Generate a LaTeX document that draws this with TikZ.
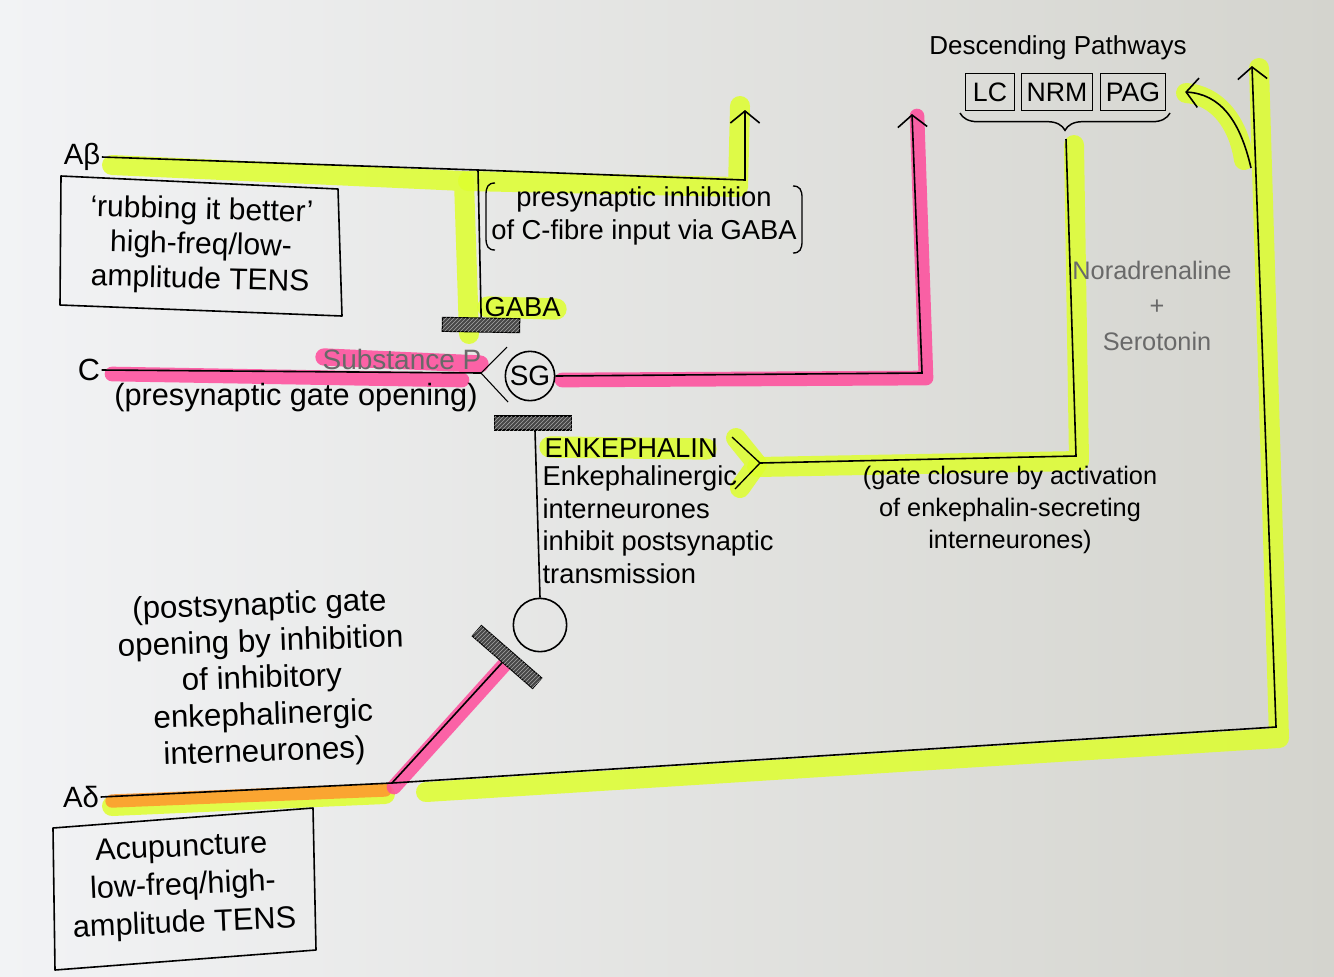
\documentclass[tikz,border=0pt]{standalone}
\usepackage{fontspec}
\setmainfont{Liberation Sans}
\usetikzlibrary{arrows.meta,patterns,decorations.pathreplacing}
\definecolor{hly}{RGB}{222,255,45}
\definecolor{hlp}{RGB}{255,75,155}
\definecolor{hlo}{RGB}{255,150,45}
\definecolor{paperL}{RGB}{242,243,245}
\definecolor{paperR}{RGB}{212,212,206}
\definecolor{inkgray}{RGB}{105,105,105}
\tikzset{
  hl/.style={line width=15pt, line cap=round, line join=round, opacity=0.85},
  nerve/.style={line width=1.2pt, black},
  arr/.style={nerve, -{Straight Barb[length=9pt,width=22pt,line width=1.2pt]}},
  lbl/.style={font=\fontsize{20.5}{24.5}\selectfont, inner sep=1pt},
  graytxt/.style={text=inkgray, font=\fontsize{19}{22}\selectfont, inner sep=1pt},
  boxline/.style={line width=1.2pt, line join=round},
  hbar/.style={draw, line width=0.8pt, fill=black!72, postaction={pattern=north east lines, pattern color=black!35}, minimum height=10.5pt, inner sep=0pt},
  dpbox/.style={draw, line width=1.2pt, font=\fontsize{20}{24}\selectfont, minimum height=28pt, inner sep=3pt},
}
\begin{document}
\begin{tikzpicture}[x=0.75pt,y=-0.75pt]
\useasboundingbox (0,0) rectangle (1334,976);
\shade[left color=paperL, right color=paperR] (0,0) rectangle (1334,976);

% ---------- highlighter strokes ----------
% yellow
\draw[hl, hly] (112,165) -- (464,181) -- (469,334);
\draw[hl, hly] (468,181) -- (738,187) -- (740,106);
\draw[hl, hly, line width=16pt] (488,307) -- (556,309);
\draw[hl, hly, line width=16pt] (550,447) -- (706,449);
\draw[hl, hly] (736,438) -- (757,464) -- (740,488);
\draw[hl, hly] (757,467) -- (1079,461) -- (1074,145);
\draw[hl, hly] (1186,93) .. controls (1215,95) and (1238,120) .. (1244,160);
\draw[hl, hly] (426,792) -- (1279,738) -- (1259,68);
\draw[hl, hly, line width=15pt] (112,806) -- (385,794);
\draw[hl, hlo, line width=10pt] (112,801) -- (385,790);
% pink
\draw[hl, hlp, line width=11pt] (112,374) -- (462,380);
\draw[hl, hlp, line width=13pt] (324,357) -- (480,364);
\draw[hl, hlp, line width=11pt] (562,380) -- (926,378) -- (917,116);
\draw[hl, hlp, line width=11pt] (394,787) -- (505,664);

% ---------- A-beta fibre ----------
\node[lbl, font=\fontsize{22}{24}\selectfont] (Ab) at (82,157) {Aβ};
\coordinate (gj) at (478,170);
\coordinate (abC) at (745,180);
\coordinate (abT) at (745,110);
\draw[arr] (Ab.east) -- (gj) -- (abC) -- (abT);
\node[hbar, minimum width=58pt, rotate=-1] (gaba) at (481,325) {};
\draw[nerve] (gj) -- (gaba.north);
\node[lbl, anchor=west] (gabat) at (483,307) {GABA};

\node[align=center, rotate=-1.5, inner sep=1pt, font=\fontsize{22.5}{26}\selectfont] (rub) at (201,246)
      {‘rubbing it better’\\high-freq/low-\\amplitude TENS};
\draw[boxline] (61,176) -- (338,189) -- (342,316) -- (60,305) -- cycle;

\node[lbl, align=center] (pres) at (644,216) {presynaptic inhibition\\of C-fibre input via GABA};
\draw[line width=1pt] (495,183) .. controls (488,183) and (486,187) .. (486,195) -- (486,238)
  .. controls (486,246) and (488,250) .. (495,250);
\draw[line width=1pt] (793,186) .. controls (800,186) and (802,190) .. (802,198) -- (802,241)
  .. controls (802,249) and (800,253) .. (793,253);

% ---------- C fibre ----------
\node[lbl, font=\fontsize{23}{24}\selectfont] (C) at (89,370) {C};
\coordinate (cv) at (481,373);
\coordinate (cu) at (507,347);
\coordinate (cd) at (508,402);
\draw[nerve] (C.east) -- (cv);
\draw[line width=0.8pt] (cu) -- (cv) -- (cd);
\node[graytxt, font=\fontsize{21}{24}\selectfont, anchor=south east] (subp) at (483,371) {Substance P};
\node[lbl, font=\fontsize{23}{26}\selectfont] (pgo) at (296,398) {(presynaptic gate opening)};

\node[draw, circle, line width=1.2pt, minimum size=37pt, inner sep=0pt,
      font=\fontsize{21}{24}\selectfont] (SG) at (530,376) {SG};
\coordinate (sgC) at (922,373);
\coordinate (sgT) at (912,114);
\draw[arr] (SG.east) -- (sgC) -- (sgT);

% ---------- enkephalin interneurone ----------
\node[hbar, minimum width=58pt] (enkb) at (533,423) {};
\node[draw, circle, line width=1.2pt, minimum size=40pt] (ei) at (540,625) {};
\draw[nerve] ([xshift=1.5pt]enkb.south) -- (ei.north);
\node[lbl, anchor=west] (enkt) at (543,448) {ENKEPHALIN};
\node[lbl, anchor=north west, align=left] (enkd) at (541,464)
  {Enkephalinergic\\interneurones\\inhibit postsynaptic\\transmission};

% ---------- descending pathways ----------
\node[lbl, font=\fontsize{19.5}{24}\selectfont] (dp) at (1058,48) {Descending Pathways};
\node[dpbox, minimum width=37pt] (LC) at (990,92) {LC};
\node[dpbox, minimum width=53pt] (NRM) at (1057,92) {NRM};
\node[dpbox, minimum width=49pt] (PAG) at (1133,92) {PAG};
\draw[line width=1.1pt, decorate, decoration={brace, amplitude=13pt}] (1170,113) -- (960,113);
\coordinate (brt) at (1066,139);
\coordinate (dcorner) at (1076,456);
\coordinate (fork) at (760,463);
\draw[nerve] (brt) -- (dcorner) -- (fork);
\draw[line width=1pt] (732,437) -- (fork) -- (735,489);
\node[graytxt] (nor) at (1152,270) {Noradrenaline};
\node[graytxt] (plus) at (1157,307) {+};
\node[graytxt] (sero) at (1157,341) {Serotonin};
\node[lbl, align=center, font=\fontsize{19}{24}\selectfont] (gc) at (1010,510)
  {(gate closure by activation\\of enkephalin-secreting\\interneurones)};

% ---------- A-delta fibre ----------
\node[lbl, font=\fontsize{22}{24}\selectfont] (Ad) at (81,797) {Aδ};
\coordinate (adj) at (392,783);
\coordinate (adC) at (1276,727);
\coordinate (adT) at (1252,66);
\draw[arr] (Ad.east) -- (adj) -- (adC) -- (adT);
\coordinate (pagb) at (1251,168);
\draw[arr] (pagb) .. controls (1240,120) and (1220,94) .. ([xshift=14pt]PAG.east);
\node[hbar, minimum width=60pt, rotate=-41] (ibar) at (507,657) {};
\draw[nerve] (adj) -- (ibar.south);

\node[lbl, align=center, rotate=2, font=\fontsize{23.5}{27.5}\selectfont] (post) at (262,680)
  {(postsynaptic gate\\opening by inhibition\\of inhibitory\\enkephalinergic\\interneurones)};

\node[align=center, rotate=2.5, inner sep=1pt, font=\fontsize{23}{28.5}\selectfont] (acu) at (183,887)
      {Acupuncture\\low-freq/high-\\amplitude TENS};
\draw[boxline] (53,828) -- (313,808) -- (316,950) -- (55,970) -- cycle;
\end{tikzpicture}
\end{document}
